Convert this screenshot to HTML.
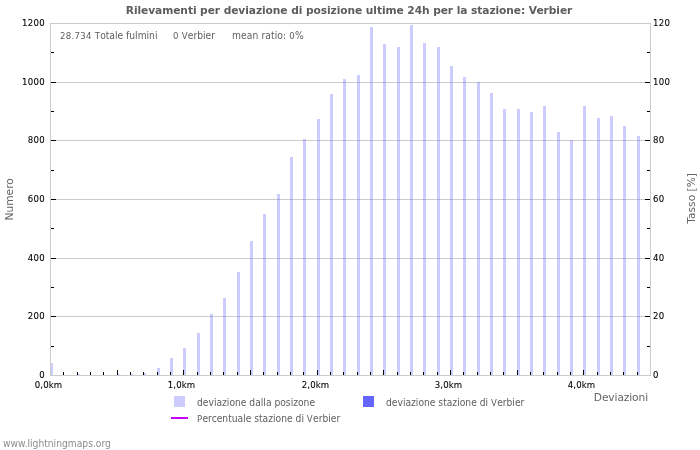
<!DOCTYPE html>
<html><head><meta charset="utf-8"><title>Rilevamenti per deviazione di posizione</title>
<style>
html,body{margin:0;padding:0;background:#fff;}
body{width:700px;height:450px;position:relative;overflow:hidden;font-family:"DejaVu Sans","Liberation Sans",sans-serif;}
#c div{position:absolute;}
.t{white-space:pre;line-height:1;}
.s{font-family:"DejaVu Sans Condensed","DejaVu Sans","Liberation Sans",sans-serif;font-size:10.2px;color:#5e5e5e;}
.n{font-size:9.5px;letter-spacing:0.3px;}
.a{font-family:"DejaVu Sans Condensed","DejaVu Sans","Liberation Sans",sans-serif;font-size:9.5px;color:#000;-webkit-text-stroke:0.08px #000;}
.h{font-size:10.67px;color:#646464;}
.g{background:#cccccc;height:1px;left:51px;width:599px;}
.f{background:#cccccc;}
.b{background:rgba(100,100,255,0.33);width:3px;}
.k{background:#000;}
</style></head><body><div id="c">

<div class="t " style="top:6px;left:-1px;width:700px;text-align:center;letter-spacing:-0.075px;font-weight:bold;font-size:10.67px;color:#5c5c5c;">Rilevamenti per deviazione di posizione ultime 24h per la stazione: Verbier</div>
<div class="g" style="top:316px"></div>
<div class="g" style="top:258px"></div>
<div class="g" style="top:199px"></div>
<div class="g" style="top:140px"></div>
<div class="g" style="top:82px"></div>
<div class="b" style="left:50px;top:363px;height:12px"></div>
<div class="b" style="left:77px;top:374px;height:1px"></div>
<div class="b" style="left:117px;top:374px;height:1px"></div>
<div class="b" style="left:130px;top:374px;height:1px"></div>
<div class="b" style="left:143px;top:373px;height:2px"></div>
<div class="b" style="left:157px;top:368px;height:7px"></div>
<div class="b" style="left:170px;top:358px;height:17px"></div>
<div class="b" style="left:183px;top:348px;height:27px"></div>
<div class="b" style="left:197px;top:333px;height:42px"></div>
<div class="b" style="left:210px;top:314px;height:61px"></div>
<div class="b" style="left:223px;top:298px;height:77px"></div>
<div class="b" style="left:237px;top:272px;height:103px"></div>
<div class="b" style="left:250px;top:241px;height:134px"></div>
<div class="b" style="left:263px;top:214px;height:161px"></div>
<div class="b" style="left:277px;top:194px;height:181px"></div>
<div class="b" style="left:290px;top:157px;height:218px"></div>
<div class="b" style="left:303px;top:139px;height:236px"></div>
<div class="b" style="left:317px;top:119px;height:256px"></div>
<div class="b" style="left:330px;top:94px;height:281px"></div>
<div class="b" style="left:343px;top:79px;height:296px"></div>
<div class="b" style="left:357px;top:75px;height:300px"></div>
<div class="b" style="left:370px;top:27px;height:348px"></div>
<div class="b" style="left:383px;top:44px;height:331px"></div>
<div class="b" style="left:397px;top:47px;height:328px"></div>
<div class="b" style="left:410px;top:25px;height:350px"></div>
<div class="b" style="left:423px;top:43px;height:332px"></div>
<div class="b" style="left:437px;top:47px;height:328px"></div>
<div class="b" style="left:450px;top:66px;height:309px"></div>
<div class="b" style="left:463px;top:77px;height:298px"></div>
<div class="b" style="left:477px;top:82px;height:293px"></div>
<div class="b" style="left:490px;top:93px;height:282px"></div>
<div class="b" style="left:503px;top:109px;height:266px"></div>
<div class="b" style="left:517px;top:109px;height:266px"></div>
<div class="b" style="left:530px;top:112px;height:263px"></div>
<div class="b" style="left:543px;top:106px;height:269px"></div>
<div class="b" style="left:557px;top:132px;height:243px"></div>
<div class="b" style="left:570px;top:140px;height:235px"></div>
<div class="b" style="left:583px;top:106px;height:269px"></div>
<div class="b" style="left:597px;top:118px;height:257px"></div>
<div class="b" style="left:610px;top:116px;height:259px"></div>
<div class="b" style="left:623px;top:126px;height:249px"></div>
<div class="b" style="left:637px;top:136px;height:239px"></div>
<div class="f" style="left:50px;top:23px;width:601px;height:1px"></div>
<div class="f" style="left:50px;top:375px;width:601px;height:1px"></div>
<div class="f" style="left:50px;top:23px;width:1px;height:353px"></div>
<div class="f" style="left:650px;top:23px;width:1px;height:353px"></div>
<div class="k" style="left:51px;top:346px;width:3px;height:1px"></div>
<div class="k" style="left:647px;top:346px;width:3px;height:1px"></div>
<div class="k" style="left:51px;top:316px;width:5px;height:1px"></div>
<div class="k" style="left:645px;top:316px;width:5px;height:1px"></div>
<div class="k" style="left:51px;top:287px;width:3px;height:1px"></div>
<div class="k" style="left:647px;top:287px;width:3px;height:1px"></div>
<div class="k" style="left:51px;top:258px;width:5px;height:1px"></div>
<div class="k" style="left:645px;top:258px;width:5px;height:1px"></div>
<div class="k" style="left:51px;top:228px;width:3px;height:1px"></div>
<div class="k" style="left:647px;top:228px;width:3px;height:1px"></div>
<div class="k" style="left:51px;top:199px;width:5px;height:1px"></div>
<div class="k" style="left:645px;top:199px;width:5px;height:1px"></div>
<div class="k" style="left:51px;top:170px;width:3px;height:1px"></div>
<div class="k" style="left:647px;top:170px;width:3px;height:1px"></div>
<div class="k" style="left:51px;top:140px;width:5px;height:1px"></div>
<div class="k" style="left:645px;top:140px;width:5px;height:1px"></div>
<div class="k" style="left:51px;top:111px;width:3px;height:1px"></div>
<div class="k" style="left:647px;top:111px;width:3px;height:1px"></div>
<div class="k" style="left:51px;top:82px;width:5px;height:1px"></div>
<div class="k" style="left:645px;top:82px;width:5px;height:1px"></div>
<div class="k" style="left:51px;top:52px;width:3px;height:1px"></div>
<div class="k" style="left:647px;top:52px;width:3px;height:1px"></div>
<div class="k" style="left:63px;top:372px;width:1px;height:3px"></div>
<div class="k" style="left:77px;top:372px;width:1px;height:3px"></div>
<div class="k" style="left:90px;top:372px;width:1px;height:3px"></div>
<div class="k" style="left:103px;top:372px;width:1px;height:3px"></div>
<div class="k" style="left:117px;top:370px;width:1px;height:5px"></div>
<div class="k" style="left:130px;top:372px;width:1px;height:3px"></div>
<div class="k" style="left:143px;top:372px;width:1px;height:3px"></div>
<div class="k" style="left:157px;top:372px;width:1px;height:3px"></div>
<div class="k" style="left:170px;top:372px;width:1px;height:3px"></div>
<div class="k" style="left:183px;top:370px;width:1px;height:5px"></div>
<div class="k" style="left:197px;top:372px;width:1px;height:3px"></div>
<div class="k" style="left:210px;top:372px;width:1px;height:3px"></div>
<div class="k" style="left:223px;top:372px;width:1px;height:3px"></div>
<div class="k" style="left:237px;top:372px;width:1px;height:3px"></div>
<div class="k" style="left:250px;top:370px;width:1px;height:5px"></div>
<div class="k" style="left:263px;top:372px;width:1px;height:3px"></div>
<div class="k" style="left:277px;top:372px;width:1px;height:3px"></div>
<div class="k" style="left:290px;top:372px;width:1px;height:3px"></div>
<div class="k" style="left:303px;top:372px;width:1px;height:3px"></div>
<div class="k" style="left:317px;top:370px;width:1px;height:5px"></div>
<div class="k" style="left:330px;top:372px;width:1px;height:3px"></div>
<div class="k" style="left:343px;top:372px;width:1px;height:3px"></div>
<div class="k" style="left:357px;top:372px;width:1px;height:3px"></div>
<div class="k" style="left:370px;top:372px;width:1px;height:3px"></div>
<div class="k" style="left:383px;top:370px;width:1px;height:5px"></div>
<div class="k" style="left:397px;top:372px;width:1px;height:3px"></div>
<div class="k" style="left:410px;top:372px;width:1px;height:3px"></div>
<div class="k" style="left:423px;top:372px;width:1px;height:3px"></div>
<div class="k" style="left:437px;top:372px;width:1px;height:3px"></div>
<div class="k" style="left:450px;top:370px;width:1px;height:5px"></div>
<div class="k" style="left:463px;top:372px;width:1px;height:3px"></div>
<div class="k" style="left:477px;top:372px;width:1px;height:3px"></div>
<div class="k" style="left:490px;top:372px;width:1px;height:3px"></div>
<div class="k" style="left:503px;top:372px;width:1px;height:3px"></div>
<div class="k" style="left:517px;top:370px;width:1px;height:5px"></div>
<div class="k" style="left:530px;top:372px;width:1px;height:3px"></div>
<div class="k" style="left:543px;top:372px;width:1px;height:3px"></div>
<div class="k" style="left:557px;top:372px;width:1px;height:3px"></div>
<div class="k" style="left:570px;top:372px;width:1px;height:3px"></div>
<div class="k" style="left:583px;top:370px;width:1px;height:5px"></div>
<div class="k" style="left:597px;top:372px;width:1px;height:3px"></div>
<div class="k" style="left:610px;top:372px;width:1px;height:3px"></div>
<div class="k" style="left:623px;top:372px;width:1px;height:3px"></div>
<div class="k" style="left:637px;top:372px;width:1px;height:3px"></div>
<div class="t a" style="top:370px;right:655px;text-align:right;letter-spacing:0.3px;">0</div>
<div class="t a" style="top:370px;left:653px;letter-spacing:0.3px;">0</div>
<div class="t a" style="top:311px;right:655px;text-align:right;letter-spacing:0.3px;">200</div>
<div class="t a" style="top:311px;left:653px;letter-spacing:0.3px;">20</div>
<div class="t a" style="top:253px;right:655px;text-align:right;letter-spacing:0.3px;">400</div>
<div class="t a" style="top:253px;left:653px;letter-spacing:0.3px;">40</div>
<div class="t a" style="top:194px;right:655px;text-align:right;letter-spacing:0.3px;">600</div>
<div class="t a" style="top:194px;left:653px;letter-spacing:0.3px;">60</div>
<div class="t a" style="top:135px;right:655px;text-align:right;letter-spacing:0.3px;">800</div>
<div class="t a" style="top:135px;left:653px;letter-spacing:0.3px;">80</div>
<div class="t a" style="top:77px;right:655px;text-align:right;letter-spacing:0.3px;">1000</div>
<div class="t a" style="top:77px;left:653px;letter-spacing:0.3px;">100</div>
<div class="t a" style="top:18px;right:655px;text-align:right;letter-spacing:0.3px;">1200</div>
<div class="t a" style="top:18px;left:653px;letter-spacing:0.3px;">120</div>
<div class="t a" style="top:380px;left:-301.5px;width:700px;text-align:center;letter-spacing:0.15px;">0,0km</div>
<div class="t a" style="top:380px;left:-168.5px;width:700px;text-align:center;letter-spacing:0.15px;">1,0km</div>
<div class="t a" style="top:380px;left:-34.5px;width:700px;text-align:center;letter-spacing:0.15px;">2,0km</div>
<div class="t a" style="top:380px;left:98.5px;width:700px;text-align:center;letter-spacing:0.15px;">3,0km</div>
<div class="t a" style="top:380px;left:231.5px;width:700px;text-align:center;letter-spacing:0.15px;">4,0km</div>
<div class="t s" style="top:31px;left:60px;"><span class="n">28.734</span> <span class="n">T</span>otale fulmini</div>
<div class="t s" style="top:31px;left:173px;"><span class="n">0</span> <span class="n">V</span>erbier</div>
<div class="t s" style="top:31px;left:232px;letter-spacing:0.1px;">mean ratio: <span class="n">0</span>%</div>
<div class="t h" style="top:194px;left:-340px;width:700px;text-align:center;transform:rotate(-90deg);">Numero</div>
<div class="t h" style="top:193px;left:342px;width:700px;text-align:center;transform:rotate(-90deg);">Tasso [%]</div>
<div class="t h" style="top:393px;right:52px;text-align:right;letter-spacing:-0.12px;">Deviazioni</div>
<div style="left:174px;top:396px;width:11px;height:11px;background:#ccccff"></div>
<div class="t s" style="top:398px;left:197px;">deviazione dalla posizone</div>
<div style="left:363px;top:396px;width:11px;height:11px;background:#6464ff"></div>
<div class="t s" style="top:398px;left:386px;">deviazione stazione di <span class="n">V</span>erbier</div>
<div style="left:171px;top:417px;width:17px;height:2px;background:#c800ff"></div>
<div class="t s" style="top:414px;left:197px;"><span class="n">P</span>ercentuale stazione di <span class="n">V</span>erbier</div>
<div class="t s" style="top:439px;left:3px;color:#8c8c8c;">www.lightningmaps.org</div>
</div></body></html>
